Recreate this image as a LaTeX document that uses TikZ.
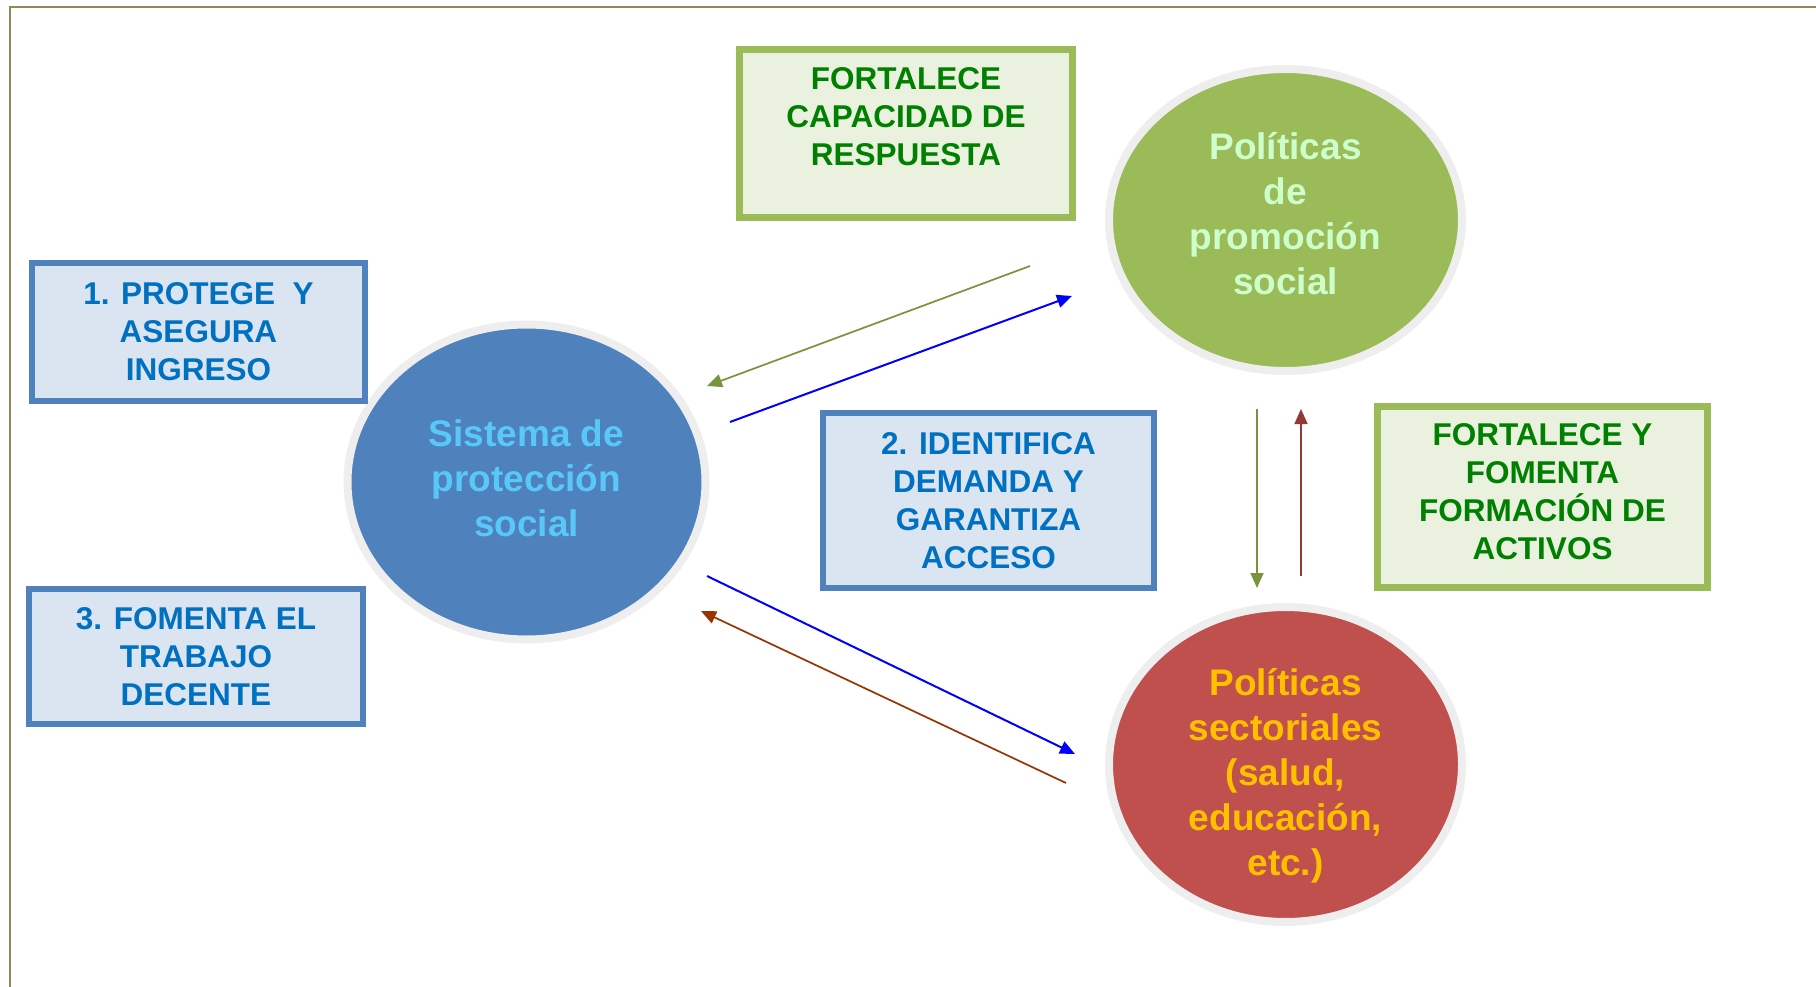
\documentclass[tikz,border=0pt]{standalone}
\usepackage{fontspec}
\setmainfont{Liberation Sans}
\usetikzlibrary{shapes.geometric,arrows.meta}

\definecolor{frameolive}{HTML}{938953}
\definecolor{halogray}{HTML}{EEEEEE}
\definecolor{bluefill}{HTML}{4F81BD}
\definecolor{greenfill}{HTML}{9BBB59}
\definecolor{redfill}{HTML}{C0504D}
\definecolor{bluetext}{HTML}{58C8F9}
\definecolor{greentext}{HTML}{CCFFCC}
\definecolor{redtext}{HTML}{FFC000}
\definecolor{boxblue}{HTML}{DBE5F1}
\definecolor{boxgreen}{HTML}{EAF1DE}
\definecolor{boxbluetext}{HTML}{0070C0}
\definecolor{boxgreentext}{HTML}{008000}
\definecolor{arrowgreen}{HTML}{77933C}
\definecolor{arrowbrown}{HTML}{993300}
\definecolor{arrowred}{HTML}{953735}

\begin{document}
\begin{tikzpicture}[x=1pt,y=-1pt,
    oval/.style={ellipse, draw=halogray, line width=8pt, inner sep=0pt},
    ovaltext/.style={align=center, inner sep=0pt,
      font=\fontsize{37}{45}\selectfont\bfseries},
    boxtext/.style={align=center, inner sep=0pt,
      font=\fontsize{31.5}{38}\selectfont\bfseries},
    bluebox/.style={rectangle, draw=bluefill, fill=boxblue, line width=6pt,
      inner sep=0pt, boxtext, text=boxbluetext},
    greenbox/.style={rectangle, draw=greenfill, fill=boxgreen, line width=7pt,
      inner sep=0pt},
    link/.style={line width=2pt, -{Triangle[length=15pt,width=13pt]}}
  ]
  \useasboundingbox (0,0) rectangle (1816,987);

  % Frame
  \draw[frameolive, line width=2pt] (1816,7) -- (10,7) -- (10,987);

  % Circles
  \node[oval, fill=bluefill, minimum width=358pt, minimum height=315pt,
    label={[ovaltext, text=bluetext, yshift=4pt]center:{Sistema de\\protección\\social}}]
    (spsocial) at (526.5,482) {};
  \node[oval, fill=greenfill, minimum width=353pt, minimum height=302pt,
    label={[ovaltext, text=greentext, yshift=6pt]center:{Políticas\\de\\promoción\\social}}]
    (promocion) at (1285.5,220) {};
  \node[oval, fill=redfill, minimum width=353pt, minimum height=315pt,
    label={[ovaltext, text=redtext, yshift=-11.5pt]center:{Políticas\\sectoriales\\(salud,\\educación,\\etc.)}}]
    (sectorial) at (1285.5,764.5) {};

  % Boxes
  \node[bluebox, minimum width=333pt, minimum height=138pt]
    (protege) at (198.5,332) {1. PROTEGE\ \ Y\\ASEGURA\\INGRESO};
  \node[bluebox, minimum width=334pt, minimum height=135pt]
    (fomenta) at (196,656.5) {3. FOMENTA EL\\TRABAJO\\DECENTE};
  \node[bluebox, minimum width=331pt, minimum height=175pt]
    (identifica) at (988.5,500.5) {2. IDENTIFICA\\DEMANDA Y\\GARANTIZA\\ACCESO};
  \node[greenbox, minimum width=333pt, minimum height=168pt,
    label={[boxtext, text=boxgreentext, yshift=16.5pt]center:{FORTALECE\\CAPACIDAD DE\\RESPUESTA}}]
    (capacidad) at (906,133.5) {};
  \node[greenbox, minimum width=330pt, minimum height=181pt,
    label={[boxtext, text=boxgreentext, yshift=5pt]center:{FORTALECE Y\\FOMENTA\\FORMACIÓN DE\\ACTIVOS}}]
    (activos) at (1542.5,497) {};

  % Arrow ends
  \coordinate (gA) at (1030,266);  \coordinate (gB) at (707,386);
  \coordinate (bA) at (730,422);   \coordinate (bB) at (1072,296);
  \coordinate (bC) at (707,576);   \coordinate (bD) at (1075,754);
  \coordinate (rA) at (1066,783);  \coordinate (rB) at (701,611);
  \coordinate (vA) at (1257,409);  \coordinate (vB) at (1257,588);
  \coordinate (vC) at (1301,576);  \coordinate (vD) at (1301,409);

  % Arrows
  \draw[link, arrowgreen, line width=1.7pt] (gA) -- (gB);
  \draw[link, blue] (bA) -- (bB);
  \draw[link, blue] (bC) -- (bD);
  \draw[link, arrowbrown, line width=1.7pt] (rA) -- (rB);
  \draw[link, arrowgreen, line width=1.6pt] (vA) -- (vB);
  \draw[link, arrowred, line width=1.6pt] (vC) -- (vD);
\end{tikzpicture}
\end{document}
